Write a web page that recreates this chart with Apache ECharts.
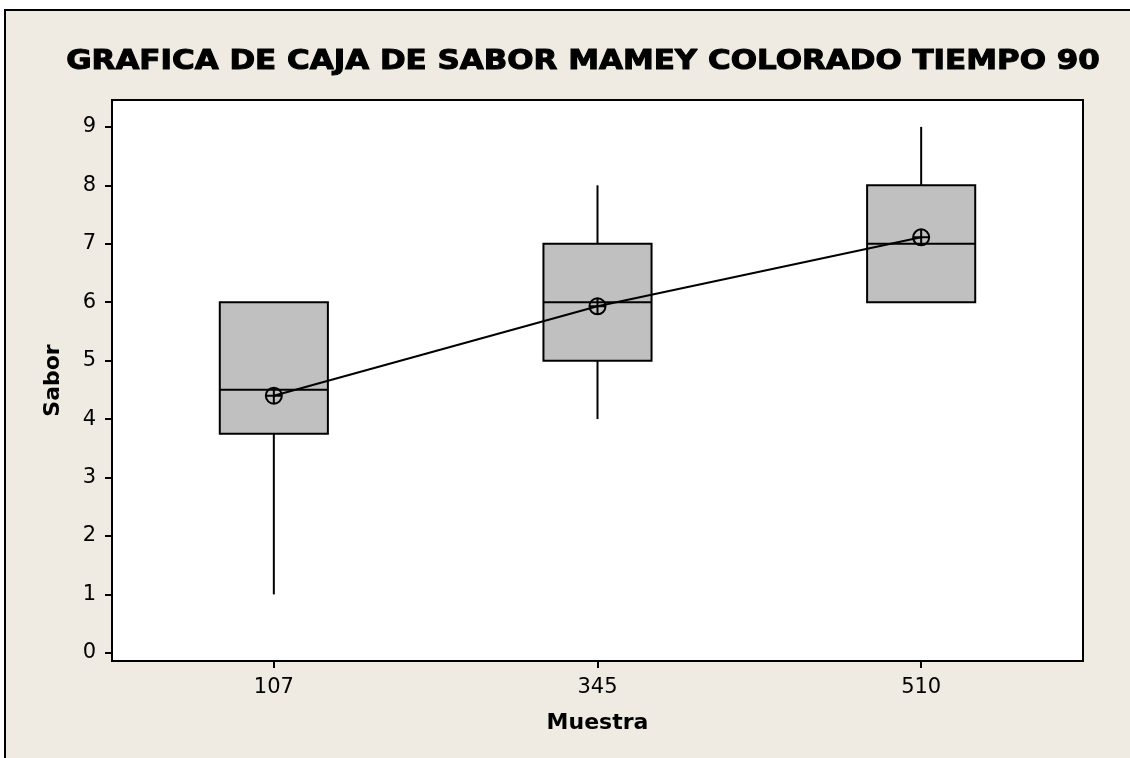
<!DOCTYPE html>
<html>
<head>
<meta charset="utf-8">
<script src="https://cdn.jsdelivr.net/npm/echarts@6/dist/echarts.min.js"></script>
<style>
html,body{margin:0;padding:0;background:#ffffff;}
#chart{width:1130px;height:758px;}
</style>
</head>
<body>
<div id="chart"></div>
<script>
const categories = ['107', '345', '510'];
const mins    = [1, 4, 6];
const q1s     = [3.75, 5, 6];
const medians = [4.5, 6, 7];
const q3s     = [6, 7, 8];
const maxs    = [6, 8, 9];
const means   = [4.4, 5.93, 7.11];
const yTicks  = [0, 1, 2, 3, 4, 5, 6, 7, 8, 9];
const titleText = 'GRAFICA DE CAJA DE SABOR MAMEY COLORADO TIEMPO 90';

const boxData = categories.map((c, i) => [i, mins[i], q1s[i], medians[i], q3s[i], maxs[i]]);

const chart = echarts.init(document.getElementById('chart'), null, {renderer: 'canvas'});

function renderBox(params, api) {
  const idx = api.value(0);
  const vMin = api.value(1), vQ1 = api.value(2), vMed = api.value(3), vQ3 = api.value(4), vMax = api.value(5);
  const cx = api.coord([idx, vMed])[0];
  const band = api.size([1, 0])[0];
  const hw = band * 0.334 / 2;
  const yMin = api.coord([idx, vMin])[1];
  const yQ1 = api.coord([idx, vQ1])[1];
  const yMed = api.coord([idx, vMed])[1];
  const yQ3 = api.coord([idx, vQ3])[1];
  const yMax = api.coord([idx, vMax])[1];
  const stroke = {stroke: '#000', lineWidth: 2, fill: null};
  const children = [];
  if (vMin < vQ1) children.push({type: 'line', shape: {x1: cx, y1: yMin, x2: cx, y2: yQ1}, style: stroke});
  if (vMax > vQ3) children.push({type: 'line', shape: {x1: cx, y1: yQ3, x2: cx, y2: yMax}, style: stroke});
  children.push({type: 'rect', shape: {x: cx - hw, y: yQ3, width: hw * 2, height: yQ1 - yQ3},
    style: {fill: '#c0c0c0', stroke: '#000', lineWidth: 2}});
  children.push({type: 'line', shape: {x1: cx - hw, y1: yMed, x2: cx + hw, y2: yMed}, style: stroke});
  return {type: 'group', children: children};
}

const option = {
  backgroundColor: '#ffffff',
  animation: false,
  graphic: [{
    type: 'rect', z: -100, silent: true,
    shape: {x: 5, y: 10, width: 1140, height: 760},
    style: {fill: '#efebe2', stroke: '#000', lineWidth: 2}
  }, {
    type: 'text', silent: true, z: 10,
    x: 583, y: 62, scaleX: 1.19,
    style: {
      text: titleText, align: 'center', verticalAlign: 'middle',
      font: 'bold 26px "DejaVu Sans"', fill: '#000', stroke: '#000', lineWidth: 1
    }
  }],
  grid: {
    left: 112, top: 100, right: 47, bottom: 97,
    show: true, backgroundColor: '#ffffff', borderColor: '#000', borderWidth: 2
  },
  xAxis: {
    type: 'category', data: categories,
    name: 'Muestra', nameLocation: 'middle', nameGap: 51,
    nameTextStyle: {fontFamily: 'DejaVu Sans', fontWeight: 'bold', fontSize: 22, color: '#000'},
    axisLine: {show: true, onZero: false, lineStyle: {color: '#000', width: 2}},
    axisTick: {show: true, alignWithLabel: true, length: 7, lineStyle: {color: '#000', width: 2}},
    axisLabel: {fontFamily: 'DejaVu Sans', fontSize: 21, color: '#000', margin: 16},
    splitLine: {show: false}
  },
  yAxis: {
    type: 'value', min: -0.14, max: 9.46,
    name: 'Sabor', nameLocation: 'middle', nameGap: 48,
    nameTextStyle: {fontFamily: 'DejaVu Sans', fontWeight: 'bold', fontSize: 22, color: '#000'},
    axisLine: {show: true, onZero: false, lineStyle: {color: '#000', width: 2}},
    axisTick: {show: true, length: 7, customValues: yTicks, lineStyle: {color: '#000', width: 2}},
    axisLabel: {fontFamily: 'DejaVu Sans', fontSize: 21, color: '#000', margin: 16, customValues: yTicks},
    splitLine: {show: false}
  },
  series: [
    {
      type: 'custom',
      renderItem: renderBox,
      data: boxData,
      encode: {x: 0, y: [1, 2, 3, 4, 5]},
      z: 2
    },
    {
      type: 'line',
      data: means,
      symbol: 'path://M0,-10 A10,10 0 1,1 0,10 A10,10 0 1,1 0,-10 Z M-10,0 L10,0 M0,-10 L0,10',
      symbolSize: 16,
      showSymbol: true,
      lineStyle: {color: '#000', width: 2},
      itemStyle: {color: 'rgba(0,0,0,0)', borderColor: '#000', borderWidth: 2},
      z: 5
    }
  ]
};
chart.setOption(option);
</script>
</body>
</html>
